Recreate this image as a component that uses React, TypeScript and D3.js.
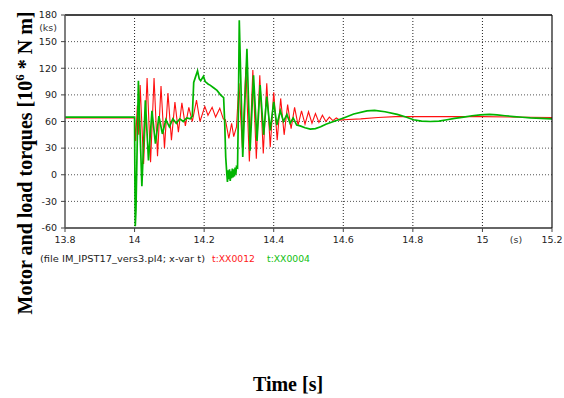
import * as d3 from "d3";

// t:XX0012 (red) and t:XX0004 (green): [time s, torque]
const redPts: [number, number][] = [
  [13.8, 64], [14.0, 64], [14.003, 38], [14.008, 78], [14.012, 45], [14.016, 101],
  [14.026, 12], [14.036, 109], [14.046, 14], [14.056, 109], [14.066, 21], [14.076, 100],
  [14.086, 30], [14.096, 92], [14.106, 39], [14.116, 82], [14.126, 48], [14.136, 81],
  [14.146, 55], [14.156, 76], [14.166, 60], [14.178, 84], [14.188, 60], [14.202, 77],
  [14.211, 67], [14.223, 76], [14.233, 65], [14.245, 75], [14.255, 63], [14.261, 62],
  [14.271, 41], [14.279, 58], [14.285, 43], [14.293, 54], [14.3, 103], [14.31, 30],
  [14.32, 121], [14.33, 15], [14.34, 118], [14.35, 18], [14.36, 112], [14.37, 24],
  [14.38, 103], [14.39, 31], [14.4, 93], [14.41, 39], [14.42, 86], [14.43, 45],
  [14.44, 79], [14.45, 52], [14.46, 76], [14.47, 56], [14.48, 72], [14.49, 57],
  [14.5, 71], [14.51, 58], [14.52, 69], [14.53, 59], [14.54, 67], [14.55, 60],
  [14.56, 65], [14.57, 61], [14.58, 64], [14.59, 61.5], [14.6, 62], [14.65, 63],
  [14.7, 64.5], [14.75, 65.5], [14.85, 65.5], [15.0, 65.5], [15.2, 64.5],
];

const greenPts: [number, number][] = [
  [13.8, 65], [14.0, 65], [14.001, -10], [14.002, -58], [14.004, -40], [14.011, 106],
  [14.021, -13], [14.031, 84], [14.04, 16], [14.05, 72], [14.06, 35], [14.07, 66],
  [14.08, 46], [14.09, 62], [14.1, 54], [14.11, 63], [14.12, 58], [14.13, 63],
  [14.14, 60], [14.15, 64], [14.16, 63], [14.166, 66], [14.17, 104], [14.175, 110],
  [14.181, 117], [14.186, 108], [14.19, 106], [14.198, 111], [14.203, 105], [14.212, 102],
  [14.217, 101], [14.227, 98], [14.237, 95], [14.247, 90], [14.256, 87], [14.259, 60],
  [14.262, 20], [14.265, 2], [14.267, -8], [14.269, 5], [14.271, -5], [14.273, 6],
  [14.275, -7], [14.277, 4], [14.279, -4], [14.281, 7], [14.283, -3], [14.285, 6],
  [14.287, -2], [14.289, 8], [14.291, 0], [14.293, 9], [14.296, 8], [14.298, 60],
  [14.301, 174], [14.311, 20], [14.323, 142], [14.332, 27], [14.342, 112], [14.352, 38],
  [14.361, 101], [14.371, 45], [14.38, 88], [14.39, 50], [14.4, 82], [14.409, 56],
  [14.419, 72], [14.428, 60], [14.438, 68], [14.447, 58], [14.456, 64], [14.466, 56],
  [14.476, 55], [14.49, 53], [14.505, 51.5], [14.52, 52], [14.535, 54], [14.55, 57],
  [14.572, 60], [14.601, 64], [14.63, 68.5], [14.668, 72], [14.69, 72.5], [14.72, 71],
  [14.755, 68], [14.78, 65], [14.802, 62], [14.825, 60.5], [14.85, 60], [14.875, 60.5],
  [14.898, 62], [14.92, 63.5], [14.946, 65], [14.97, 66.5], [14.994, 67.5], [15.02, 68],
  [15.042, 67.5], [15.065, 66.5], [15.09, 65.6], [15.115, 64.8], [15.138, 64],
  [15.17, 63.5], [15.2, 63],
];

const xTicks = [13.8, 14, 14.2, 14.4, 14.6, 14.8, 15, 15.2];
const yTicks = [-60, -30, 0, 30, 60, 90, 120, 150, 180];

const PLOT = { left: 65, right: 552, top: 15, bottom: 228 };
const TICK_FONT = "'DejaVu Sans', Verdana, sans-serif";

const App = () => {
  const x = d3.scaleLinear().domain([13.8, 15.2]).range([PLOT.left, PLOT.right]);
  const y = d3.scaleLinear().domain([-60, 180]).range([PLOT.bottom, PLOT.top]);

  const line = d3
    .line<[number, number]>()
    .x((d) => x(d[0]))
    .y((d) => y(d[1]));

  const gridX = xTicks.slice(1, -1);
  const gridY = yTicks.slice(1, -1);

  return (
    <svg
      width={564}
      height={398}
      style={{ position: "absolute", left: 0, top: 0, background: "#fff" }}
    >
      {/* grid */}
      {gridY.map((v) => (
        <line
          key={"gy" + v}
          x1={PLOT.left}
          x2={PLOT.right}
          y1={y(v)}
          y2={y(v)}
          stroke="#555"
          strokeDasharray="1 2"
        />
      ))}
      {gridX.map((v) => (
        <line
          key={"gx" + v}
          x1={x(v)}
          x2={x(v)}
          y1={PLOT.top}
          y2={PLOT.bottom}
          stroke="#222"
          strokeDasharray="1 2"
        />
      ))}

      {/* curves */}
      <path d={line(redPts) || ""} fill="none" stroke="#ff1010" strokeWidth={1.1} />
      <path d={line(greenPts) || ""} fill="none" stroke="#00b400" strokeWidth={1.7} />

      {/* frame */}
      <line x1={PLOT.left} x2={PLOT.right} y1={PLOT.top} y2={PLOT.top} stroke="#444" strokeWidth={2} />
      <line x1={PLOT.left} x2={PLOT.right} y1={PLOT.bottom} y2={PLOT.bottom} stroke="#666" strokeWidth={2} />
      <line x1={PLOT.left} x2={PLOT.left} y1={PLOT.top} y2={PLOT.bottom} stroke="#555" strokeWidth={1.5} />
      <line x1={PLOT.right} x2={PLOT.right} y1={PLOT.top} y2={PLOT.bottom} stroke="#111" strokeWidth={1.2} />

      {/* y ticks */}
      {yTicks.map((v) => (
        <g key={"ty" + v}>
          <line x1={PLOT.left - 4} x2={PLOT.left} y1={y(v)} y2={y(v)} stroke="#444" />
          <text
            x={57}
            y={y(v)}
            dy="0.35em"
            textAnchor="end"
            fontFamily={TICK_FONT}
            fontSize={9.5}
            fill="#222"
          >
            {v}
          </text>
        </g>
      ))}
      <text x={57} y={31} textAnchor="end" fontFamily={TICK_FONT} fontSize={9.5} fill="#333">
        (ks)
      </text>

      {/* x ticks */}
      {xTicks.map((v) => (
        <g key={"tx" + v}>
          <line x1={x(v)} x2={x(v)} y1={PLOT.bottom} y2={PLOT.bottom + 4} stroke="#444" />
          <text
            x={x(v)}
            y={243}
            textAnchor="middle"
            fontFamily={TICK_FONT}
            fontSize={9.5}
            fill="#222"
          >
            {v}
          </text>
        </g>
      ))}
      <text x={516} y={243} textAnchor="middle" fontFamily={TICK_FONT} fontSize={9.5} fill="#333">
        (s)
      </text>

      {/* legend */}
      <text x={40} y={262} fontFamily={TICK_FONT} fontSize={9.5} fill="#222" textLength={165} lengthAdjust="spacingAndGlyphs">
        (file IM_IPST17_vers3.pl4; x-var t)
      </text>
      <text x={212} y={262} fontFamily={TICK_FONT} fontSize={9.5} fill="#ff2020" textLength={43} lengthAdjust="spacingAndGlyphs">
        t:XX0012
      </text>
      <text x={267} y={262} fontFamily={TICK_FONT} fontSize={9.5} fill="#10c010" textLength={43} lengthAdjust="spacingAndGlyphs">
        t:XX0004
      </text>

      {/* axis titles */}
      <text
        transform="translate(32,163) rotate(-90)"
        textAnchor="middle"
        fontFamily="'Liberation Serif', 'Times New Roman', serif"
        fontWeight="bold"
        fontSize={20}
        fill="#000"
      >
        Motor and load torques [10
        <tspan dy={-8} fontSize={13}>6</tspan>
        <tspan dy={8}> * N m]</tspan>
      </text>
      <text
        x={288}
        y={391}
        textAnchor="middle"
        fontFamily="'Liberation Serif', 'Times New Roman', serif"
        fontWeight="bold"
        fontSize={20}
        fill="#000"
      >
        Time [s]
      </text>
    </svg>
  );
};

export default App;
